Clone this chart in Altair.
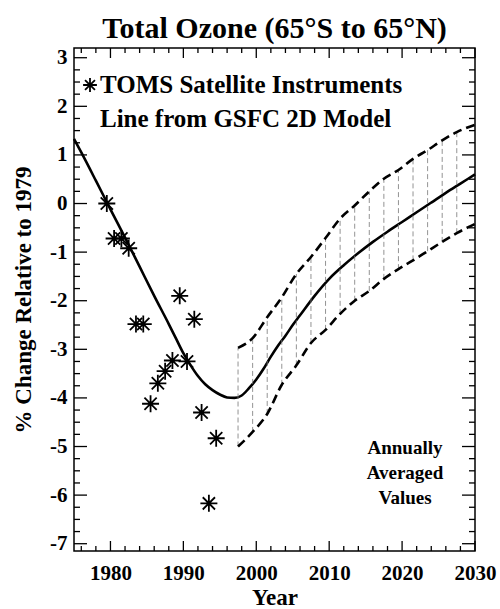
import altair as alt
import pandas as pd

FONT = "Liberation Serif"
TITLE = "Total Ozone (65°S to 65°N)"
Y_TITLE = "% Change Relative to 1979"
X_TITLE = "Year"
LEGEND_POINTS = "TOMS Satellite Instruments"
LEGEND_LINE = "Line from GSFC 2D Model"
NOTE_LINES = ["Annually", "Averaged", "Values"]

# TOMS annual averages (% change relative to 1979)
TOMS_YEARS = list(range(1979, 1995))
TOMS_VALUES = [0.0, -0.72, -0.72, -0.92, -2.48, -2.48, -4.12, -3.70,
               -3.45, -3.23, -1.90, -3.25, -2.38, -4.30, -6.17, -4.83]

# GSFC 2D model central line
MODEL_YEARS = [1975, 1976, 1978, 1980, 1982, 1984, 1986, 1988, 1989, 1990,
               1991, 1992, 1993, 1994, 1995, 1996, 1997, 1998, 1999, 2000,
               2001, 2002, 2003, 2004, 2005, 2006, 2008, 2010, 2012, 2014,
               2016, 2018, 2020, 2022, 2024, 2026, 2028, 2030]
MODEL_VALUES = [1.33, 1.05, 0.47, -0.12, -0.70, -1.30, -1.90, -2.48, -2.78, -3.08,
                -3.33, -3.55, -3.72, -3.84, -3.93, -3.99, -4.00, -3.95, -3.80, -3.62,
                -3.40, -3.15, -2.92, -2.72, -2.50, -2.30, -1.90, -1.55, -1.27, -1.02,
                -0.79, -0.58, -0.38, -0.18, 0.02, 0.22, 0.41, 0.60]

# Uncertainty band (dashed envelope)
BAND_YEARS = [1997.5, 1999.5, 2001.5, 2003.5, 2005.5, 2007.5, 2009.5, 2011.5,
              2013.5, 2015.5, 2017.5, 2019.5, 2021.5, 2023.5, 2025.5, 2027.5, 2030]
BAND_UPPER = [-2.97, -2.77, -2.34, -1.93, -1.45, -1.10, -0.71, -0.31,
              -0.04, 0.25, 0.51, 0.69, 0.92, 1.10, 1.30, 1.47, 1.62]
BAND_LOWER = [-5.00, -4.70, -4.33, -3.73, -3.33, -2.87, -2.60, -2.27,
              -2.00, -1.80, -1.55, -1.35, -1.17, -0.98, -0.79, -0.61, -0.42]

# Axis tick positions
Y_MAJOR = list(range(-7, 4))
Y_MINOR = [v / 4 for v in range(-28, 13) if v % 4 != 0]
X_MAJOR = list(range(1980, 2031, 10))
X_MINOR = [y for y in range(1976, 2031, 2) if y % 10 != 0]

toms = pd.DataFrame({"year": [y + 0.5 for y in TOMS_YEARS], "value": TOMS_VALUES})
model = pd.DataFrame({"year": MODEL_YEARS, "value": MODEL_VALUES})
band = pd.DataFrame({"year": BAND_YEARS, "upper": BAND_UPPER, "lower": BAND_LOWER})
hatch = band.iloc[:-1]
y_major = pd.DataFrame({"v": Y_MAJOR})
y_minor = pd.DataFrame({"v": Y_MINOR})
x_major = pd.DataFrame({"v": X_MAJOR})
x_minor = pd.DataFrame({"v": X_MINOR})

W, H = 401, 503
XS = alt.Scale(domain=[1975, 2030], nice=False, zero=False)
YS = alt.Scale(domain=[-7.15, 3.2], nice=False, zero=False)

ASTERISK = "M-1,0L1,0M0,-1L0,1M-0.72,-0.72L0.72,0.72M-0.72,0.72L0.72,-0.72"

LABEL_STYLE = dict(labelFont=FONT, labelFontSize=21, labelFontWeight="bold",
                   labelColor="black", labelFlush=False, labelOverlap=False)
TITLE_STYLE = dict(titleFont=FONT, titleFontSize=23, titleFontWeight="bold",
                   titleColor="black")

AX_BOTTOM = alt.Axis(orient="bottom", values=X_MAJOR, format="d", ticks=False,
                     tickSize=0, domain=False, grid=False, labelPadding=11,
                     title=X_TITLE, titlePadding=3, **LABEL_STYLE, **TITLE_STYLE)
AX_LEFT = alt.Axis(orient="left", values=Y_MAJOR, ticks=False, tickSize=0,
                   domain=False, grid=False, labelPadding=7,
                   labelExpr="'' + datum.value", title=Y_TITLE, titlePadding=14,
                   **LABEL_STYLE, **TITLE_STYLE)

model_line = alt.Chart(model).mark_line(
    color="black", strokeWidth=2.6, interpolate="monotone"
).encode(
    x=alt.X("year:Q", scale=XS, axis=AX_BOTTOM),
    y=alt.Y("value:Q", scale=YS, axis=AX_LEFT),
)

upper_line = alt.Chart(band).mark_line(
    color="black", strokeWidth=2.6, strokeDash=[9, 5], interpolate="monotone"
).encode(
    x=alt.X("year:Q", scale=XS),
    y=alt.Y("upper:Q", scale=YS),
)

lower_line = alt.Chart(band).mark_line(
    color="black", strokeWidth=2.6, strokeDash=[9, 5], interpolate="monotone"
).encode(
    x=alt.X("year:Q", scale=XS),
    y=alt.Y("lower:Q", scale=YS),
)

hatch_rules = alt.Chart(hatch).mark_rule(
    color="#777777", strokeWidth=0.8, strokeDash=[5, 3]
).encode(
    x=alt.X("year:Q", scale=XS),
    y=alt.Y("lower:Q", scale=YS),
    y2="upper:Q",
)

toms_points = alt.Chart(toms).mark_point(
    shape=ASTERISK, size=289, filled=False, color="black", strokeWidth=1.8, opacity=1
).encode(
    x=alt.X("year:Q", scale=XS),
    y=alt.Y("value:Q", scale=YS),
)


# inward-pointing frame ticks on all four sides
def y_ticks(df, length):
    base = alt.Chart(df).mark_rule(color="black", strokeWidth=1.3)
    left = base.encode(y=alt.Y("v:Q", scale=YS), x=alt.value(0), x2=alt.value(length))
    right = base.encode(y=alt.Y("v:Q", scale=YS), x=alt.value(W - length), x2=alt.value(W))
    return [left, right]


def x_ticks(df, length):
    base = alt.Chart(df).mark_rule(color="black", strokeWidth=1.3)
    bottom = base.encode(x=alt.X("v:Q", scale=XS), y=alt.value(H - length), y2=alt.value(H))
    top = base.encode(x=alt.X("v:Q", scale=XS), y=alt.value(0), y2=alt.value(length))
    return [bottom, top]


tick_layers = y_ticks(y_major, 13) + y_ticks(y_minor, 6) + x_ticks(x_major, 10) + x_ticks(x_minor, 5)

one = alt.Data(values=[{}])

legend_marker = alt.Chart(one).mark_point(
    shape=ASTERISK, size=190, filled=False, color="black", strokeWidth=1.8, opacity=1
).encode(x=alt.value(16), y=alt.value(37))

legend_text1 = alt.Chart(one).mark_text(
    text=LEGEND_POINTS, font=FONT, fontSize=25, fontWeight="bold", color="black",
    align="left", baseline="middle"
).encode(x=alt.value(26), y=alt.value(37))

legend_text2 = alt.Chart(one).mark_text(
    text=LEGEND_LINE, font=FONT, fontSize=25, fontWeight="bold", color="black",
    align="left", baseline="middle"
).encode(x=alt.value(26), y=alt.value(71))

note_text = alt.Chart(one).mark_text(
    text=NOTE_LINES, font=FONT, fontSize=19, fontWeight="bold", color="black",
    align="center", baseline="middle", lineHeight=25
).encode(x=alt.value(331), y=alt.value(400))

chart = alt.layer(
    model_line, hatch_rules, upper_line, lower_line, toms_points,
    *tick_layers,
    legend_marker, legend_text1, legend_text2, note_text,
).properties(
    width=W, height=H,
    title=alt.TitleParams(text=TITLE, font=FONT, fontSize=30, fontWeight="bold",
                          color="black", anchor="middle", offset=3),
    autosize=alt.AutoSizeParams(type="none"),
    padding={"left": 74, "top": 48, "right": 25, "bottom": 58},
).configure(
    background="white"
).configure_view(
    stroke="black", strokeWidth=1.5
)

chart.save("out.html", embed_options={"renderer": "svg", "actions": False})
